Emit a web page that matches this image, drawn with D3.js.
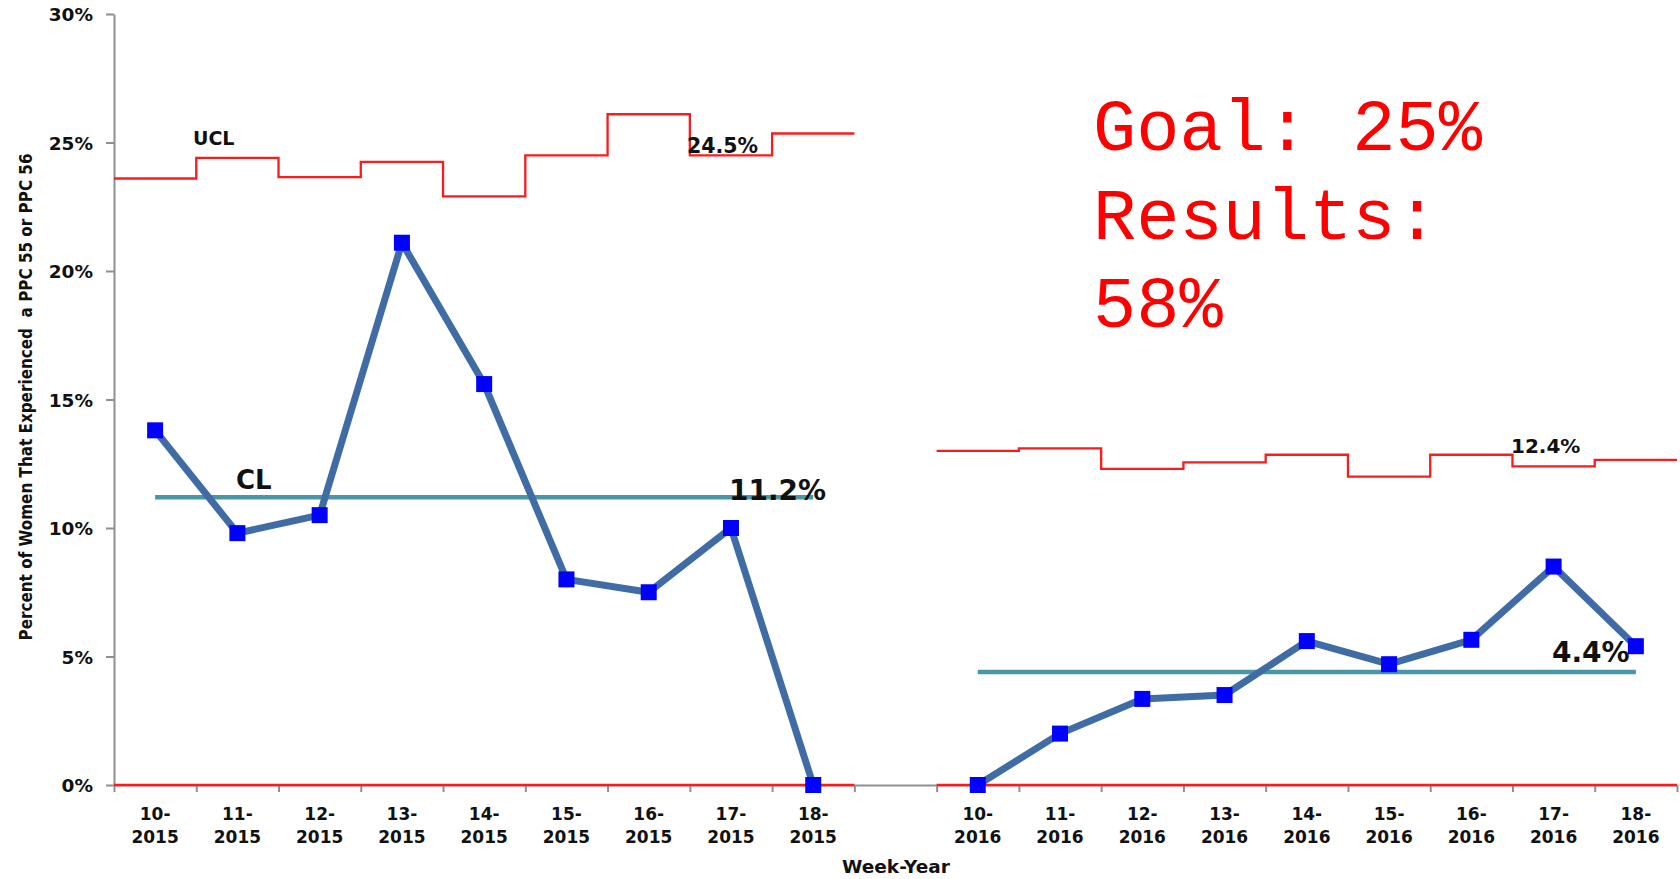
<!DOCTYPE html>
<html>
<head>
<meta charset="utf-8">
<script src="https://cdn.jsdelivr.net/npm/d3@7"></script>
<style>
  html, body { margin: 0; padding: 0; background: #fff; }
  svg { display: block; }
  .bold { font-family: "DejaVu Sans", Verdana, sans-serif; font-weight: bold; fill: #111; }
</style>
</head>
<body>
<svg id="chart" width="1680" height="879"></svg>
<script>
// ---------- data ----------
const weeks = ["10", "11", "12", "13", "14", "15", "16", "17", "18"];
const years = ["2015", "2016"];
const rate2015 = [13.8, 9.8, 10.5, 21.1, 15.6, 8.0, 7.5, 10.0, 0];
const rate2016 = [0, 2.0, 3.35, 3.5, 5.6, 4.7, 5.65, 8.5, 5.4];
const ucl2015 = [23.6, 24.4, 23.65, 24.25, 22.9, 24.5, 26.1, 24.5, 25.35];
const ucl2016 = [13.0, 13.1, 12.3, 12.55, 12.85, 12.0, 12.85, 12.4, 12.65];
const lcl2015 = [0, 0, 0, 0, 0, 0, 0, 0, 0];
const lcl2016 = [0, 0, 0, 0, 0, 0, 0, 0, 0];
const cl2015 = 11.2;
const cl2016 = 4.4;
const yTicks = [0, 5, 10, 15, 20, 25, 30];
const goalLines = ["Goal: 25%", "Results:", "58%"];
const yTitle = "Percent of Women That Experienced  a PPC 55 or PPC 56";
const xTitle = "Week-Year";

// ---------- layout ----------
const svg = d3.select("#chart");
const plotL = 114, plotR = 1677, plotT = 14, plotB = 785;

const cats2015 = weeks.map(w => w + "-" + years[0]);
const cats2016 = weeks.map(w => w + "-" + years[1]);
const domain = [...cats2015, "gap", ...cats2016];

const x = d3.scaleBand().domain(domain).range([plotL, plotR]).padding(0);
const xi = d3.scaleLinear().domain([0, domain.length]).range([plotL, plotR]);
const y = d3.scaleLinear().domain([0, 30]).range([plotB, plotT]);

const axisColor = "#8f8f8f";

// y axis
const yAxis = svg.append("g")
  .attr("transform", `translate(${plotL},0)`)
  .call(d3.axisLeft(y).tickValues(yTicks).tickFormat(d => d + "%").tickSize(8).tickSizeOuter(0).tickPadding(13));
yAxis.select(".domain").attr("stroke", axisColor).attr("stroke-width", 2);
yAxis.selectAll(".tick line").attr("stroke", axisColor).attr("stroke-width", 2);
yAxis.selectAll(".tick text").attr("class", "bold").attr("font-size", 18.5).attr("dy", "0.36em");

// x axis (ticks at category boundaries)
const xAxis = svg.append("g")
  .attr("transform", `translate(0,${plotB})`)
  .call(d3.axisBottom(xi).tickValues(d3.range(domain.length + 1)).tickFormat("").tickSize(7).tickSizeOuter(0));
xAxis.select(".domain").attr("stroke", axisColor).attr("stroke-width", 2);
xAxis.selectAll(".tick line").attr("stroke", axisColor).attr("stroke-width", 2);

// x tick labels
const labelG = svg.append("g");
domain.filter(d => d !== "gap").forEach(c => {
  const [w, yr] = c.split("-");
  const t = labelG.append("text").attr("class", "bold").attr("font-size", 17)
    .attr("text-anchor", "middle");
  t.append("tspan").attr("x", x(c) + x.bandwidth() / 2).attr("y", 820).text(w + "-");
  t.append("tspan").attr("x", x(c) + x.bandwidth() / 2).attr("y", 843).text(yr);
});

// axis titles
svg.append("text").attr("class", "bold").attr("font-size", 18.5)
  .attr("x", 896).attr("y", 873).attr("text-anchor", "middle").text(xTitle);
svg.append("text").attr("class", "bold").attr("font-size", 17)
  .attr("transform", "translate(32,397) rotate(-90)")
  .attr("text-anchor", "middle")
  .attr("textLength", 487).attr("lengthAdjust", "spacingAndGlyphs")
  .style("white-space", "pre")
  .text(yTitle);

// step lines (UCL / LCL)
function stepPoints(cats, vals) {
  const pts = cats.map((c, i) => [x(c), y(vals[i])]);
  const last = cats[cats.length - 1];
  pts.push([x(last) + x.bandwidth(), y(vals[vals.length - 1])]);
  return pts;
}
const stepLine = d3.line().curve(d3.curveStepAfter);
[[cats2015, ucl2015], [cats2016, ucl2016], [cats2015, lcl2015], [cats2016, lcl2016]].forEach(([c, v]) => {
  svg.append("path").attr("d", stepLine(stepPoints(c, v)))
    .attr("fill", "none").attr("stroke", "#ff1a1a").attr("stroke-width", 2.3);
});

// center lines
const center = c => x(c) + x.bandwidth() / 2;
[[cats2015, cl2015], [cats2016, cl2016]].forEach(([c, v]) => {
  svg.append("line")
    .attr("x1", center(c[0])).attr("x2", center(c[c.length - 1]))
    .attr("y1", y(v)).attr("y2", y(v))
    .attr("stroke", "#4797a8").attr("stroke-width", 4.5);
});

// data lines
const dataLine = d3.line().x(d => center(d[0])).y(d => y(d[1]));
const ms = 16;
[[cats2015, rate2015], [cats2016, rate2016]].forEach(([c, v]) => {
  const pts = c.map((cc, i) => [cc, v[i]]);
  svg.append("path").attr("d", dataLine(pts))
    .attr("fill", "none").attr("stroke", "#3f6ca5").attr("stroke-width", 7)
    .attr("stroke-linejoin", "round");
  svg.selectAll(null).data(pts).enter().append("rect")
    .attr("x", d => center(d[0]) - ms / 2).attr("y", d => y(d[1]) - ms / 2)
    .attr("width", ms).attr("height", ms).attr("fill", "#0000ff");
});

// annotations
svg.append("text").attr("class", "bold").attr("font-size", 19)
  .attr("x", 193).attr("y", 145).text("UCL");
svg.append("text").attr("class", "bold").attr("font-size", 20.5)
  .attr("x", 687).attr("y", 153).text(ucl2015[7].toFixed(1) + "%");
svg.append("text").attr("class", "bold").attr("font-size", 20)
  .attr("x", 1511).attr("y", 453).text(ucl2016[7].toFixed(1) + "%");
svg.append("text").attr("class", "bold").attr("font-size", 26)
  .attr("x", 236).attr("y", 489).text("CL");
svg.append("text").attr("class", "bold").attr("font-size", 28)
  .attr("x", 729).attr("y", 500).text(cl2015.toFixed(1) + "%");
svg.append("text").attr("class", "bold").attr("font-size", 28)
  .attr("x", 1552).attr("y", 662).text(cl2016.toFixed(1) + "%");

// goal text
goalLines.forEach((t, i) => {
  svg.append("text")
    .attr("x", 1093).attr("y", 150 + i * 88.5)
    .attr("font-family", "'Liberation Mono', 'Courier New', monospace")
    .attr("font-size", 72).attr("fill", "#ff0000")
    .text(t);
});
</script>
</body>
</html>
